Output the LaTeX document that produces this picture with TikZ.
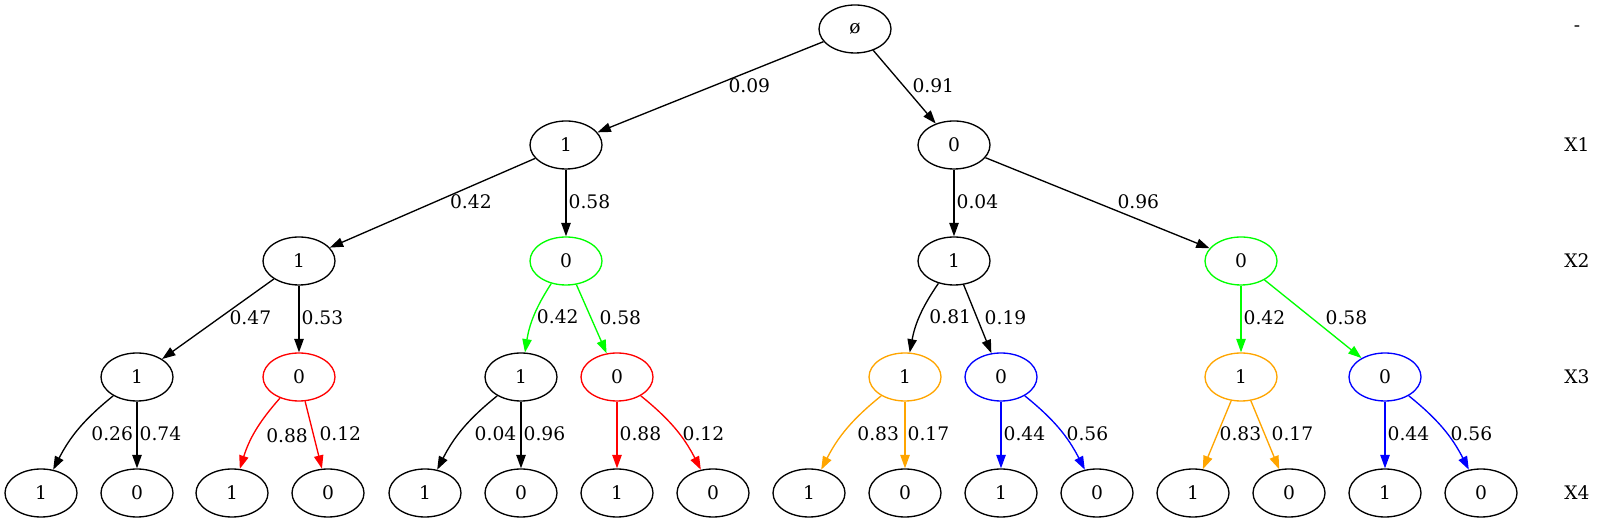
\documentclass[tikz,border=0pt]{standalone}
\usepackage{fontspec}
\setmainfont{DejaVu Serif}
\usepackage{xcolor}
\usepackage{tikz}
\usetikzlibrary{arrows.meta,shapes.geometric}
\definecolor{GvGreen}{HTML}{00FF00}
\definecolor{GvRed}{HTML}{FF0000}
\definecolor{GvBlue}{HTML}{0000FF}
\definecolor{GvOrange}{HTML}{FFA500}

\begin{document}
\begin{tikzpicture}[x=0.75pt,y=0.75pt,line width=1pt,>={Triangle[length=10pt,width=7pt]},
  every node/.style={font=\fontsize{14pt}{17pt}\selectfont},
  vnode/.style={draw,ellipse,minimum width=54pt,minimum height=36pt,inner sep=0pt},
  elab/.style={anchor=west,inner sep=0pt,text=black,xshift=1.5pt,yshift=1pt},
  lvl/.style={inner sep=0pt}]
\useasboundingbox (0,0) rectangle (1619,523);
% tree nodes, one row per level
\node[vnode] (n) at (855,494) {ø};
\node[vnode] (n1) at (566,378) {1};
\node[vnode] (n0) at (954,378) {0};
\node[vnode] (n11) at (299,262) {1};
\node[vnode,draw=GvGreen] (n10) at (566,262) {0};
\node[vnode] (n01) at (954,262) {1};
\node[vnode,draw=GvGreen] (n00) at (1241,262) {0};
\node[vnode] (n111) at (137,146) {1};
\node[vnode,draw=GvRed] (n110) at (299,146) {0};
\node[vnode] (n101) at (521,146) {1};
\node[vnode,draw=GvRed] (n100) at (617,146) {0};
\node[vnode,draw=GvOrange] (n011) at (905,146) {1};
\node[vnode,draw=GvBlue] (n010) at (1001,146) {0};
\node[vnode,draw=GvOrange] (n001) at (1241,146) {1};
\node[vnode,draw=GvBlue] (n000) at (1385,146) {0};
\node[vnode] (n1111) at (41,30) {1};
\node[vnode] (n1110) at (137,30) {0};
\node[vnode] (n1101) at (232,30) {1};
\node[vnode] (n1100) at (328,30) {0};
\node[vnode] (n1011) at (425,30) {1};
\node[vnode] (n1010) at (521,30) {0};
\node[vnode] (n1001) at (617,30) {1};
\node[vnode] (n1000) at (713,30) {0};
\node[vnode] (n0111) at (809,30) {1};
\node[vnode] (n0110) at (905,30) {0};
\node[vnode] (n0101) at (1001,30) {1};
\node[vnode] (n0100) at (1097,30) {0};
\node[vnode] (n0011) at (1193,30) {1};
\node[vnode] (n0010) at (1289,30) {0};
\node[vnode] (n0001) at (1385,30) {1};
\node[vnode] (n0000) at (1481,30) {0};
% level names
\node[lvl] (lv0) at (1577,494) {-};
\node[lvl] (lv1) at (1577,378) {X1};
\node[lvl] (lv2) at (1577,262) {X2};
\node[lvl] (lv3) at (1577,146) {X3};
\node[lvl] (lv4) at (1577,30) {X4};
% edges
\draw[->] (n) -- node[elab,xshift=11.5pt] {0.09} (n1);
\draw[->] (n) -- node[elab,xshift=4pt] {0.91} (n0);
\draw[->] (n1) -- node[elab,xshift=11.2pt] {0.42} (n11);
\draw[->] (n1) -- node[elab] {0.58} (n10);
\draw[->] (n0) -- node[elab] {0.04} (n01);
\draw[->] (n0) -- node[elab,xshift=13pt] {0.96} (n00);
\draw[->] (n11) -- node[elab,xshift=6.7pt] {0.47} (n111);
\draw[->] (n11) -- node[elab] {0.53} (n110);
\draw[->,GvGreen] (n10) to[bend right=12] node[elab,xshift=0.3pt,yshift=-1.2pt] {0.42} (n101);
\draw[->,GvGreen] (n10) -- node[elab,xshift=4pt] {0.58} (n100);
\draw[->] (n01) to[bend right=12] node[elab,xshift=5.2pt,yshift=-1.2pt] {0.81} (n011);
\draw[->] (n01) -- node[elab,xshift=3.4pt] {0.19} (n010);
\draw[->,GvGreen] (n00) -- node[elab] {0.42} (n001);
\draw[->,GvGreen] (n00) -- node[elab,xshift=7.5pt] {0.58} (n000);
\draw[->] (n111) to[bend right=12] node[elab,xshift=7.5pt,yshift=-4.6pt] {0.26} (n1111);
\draw[->] (n111) -- node[elab] {0.74} (n1110);
\draw[->,GvRed] (n110) to[bend right=12] node[elab,xshift=6pt,yshift=-4.6pt] {0.88} (n1101);
\draw[->,GvRed] (n110) -- node[elab,xshift=2.5pt] {0.12} (n1100);
\draw[->] (n101) to[bend right=12] node[elab,xshift=7pt,yshift=-4.6pt] {0.04} (n1011);
\draw[->] (n101) -- node[elab] {0.96} (n1010);
\draw[->,GvRed] (n100) -- node[elab] {0.88} (n1001);
\draw[->,GvRed] (n100) to[bend left=12] node[elab,xshift=3.5pt,yshift=-4.6pt] {0.12} (n1000);
\draw[->,GvOrange] (n011) to[bend right=12] node[elab,xshift=6pt,yshift=-4.6pt] {0.83} (n0111);
\draw[->,GvOrange] (n011) -- node[elab] {0.17} (n0110);
\draw[->,GvBlue] (n010) -- node[elab] {0.44} (n0101);
\draw[->,GvBlue] (n010) to[bend left=12] node[elab,xshift=3.5pt,yshift=-4.6pt] {0.56} (n0100);
\draw[->,GvOrange] (n001) -- node[elab] {0.83} (n0011);
\draw[->,GvOrange] (n001) -- node[elab,xshift=3pt] {0.17} (n0010);
\draw[->,GvBlue] (n000) -- node[elab] {0.44} (n0001);
\draw[->,GvBlue] (n000) to[bend left=12] node[elab,xshift=3.5pt,yshift=-4.6pt] {0.56} (n0000);
\end{tikzpicture}
\end{document}
